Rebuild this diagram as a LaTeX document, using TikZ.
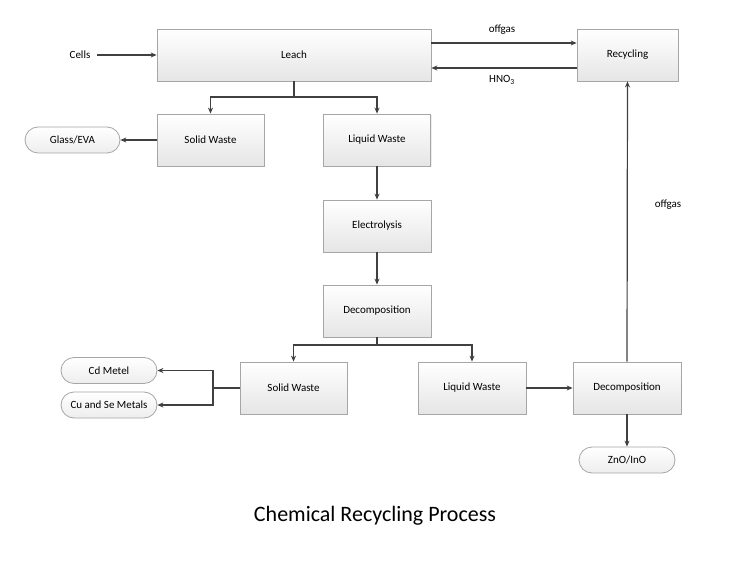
\documentclass[tikz,border=0pt]{standalone}
\usepackage{fontspec}
\setmainfont{Carlito}
\usetikzlibrary{arrows.meta,shapes.misc,shadows}
\definecolor{lnc}{HTML}{404040}
\definecolor{bdc}{HTML}{A6A6A6}
\tikzset{
  pbox/.style={draw=bdc, line width=0.8pt, top color=white, bottom color=black!10,
    minimum height=52pt, inner sep=0pt, font=\fontsize{11}{13}\selectfont,
    drop shadow={shadow xshift=1pt, shadow yshift=-1pt, opacity=0.15}},
  term/.style={draw=bdc, line width=0.8pt, rounded rectangle, top color=white, bottom color=black!7,
    minimum width=96pt, minimum height=26pt, inner sep=0pt, font=\fontsize{11}{13}\selectfont},
  lbl/.style={font=\fontsize{11}{13}\selectfont, inner sep=1pt},
  conn/.style={draw=lnc, line width=1.2pt, -{Stealth[length=6pt,width=5pt]}},
  plain/.style={draw=lnc, line width=1.2pt}
}
\begin{document}
\begin{tikzpicture}[x=1pt,y=-1pt]
\useasboundingbox[fill=white] (0,0) rectangle (750,580);
% boxes
\node[pbox, minimum width=274pt] (leach) at (294,55) {Leach};
\node[pbox, minimum width=101pt] (recyc) at (627.5,55) {Recycling};
\node[pbox, minimum width=107pt] (sw1) at (210.5,140) {Solid Waste};
\node[pbox, minimum width=107pt] (lw1) at (377,140) {Liquid Waste};
\node[pbox, minimum width=108pt] (elec) at (377,226) {Electrolysis};
\node[pbox, minimum width=108pt] (dec1) at (377,311) {Decomposition};
\node[pbox, minimum width=107pt] (sw2) at (293.5,388) {Solid Waste};
\node[pbox, minimum width=108pt] (lw2) at (472,388) {Liquid Waste};
\node[pbox, minimum width=108pt] (dec2) at (627,388) {Decomposition};
% terminals
\node[term, minimum width=95pt] (glass) at (72.5,140) {Glass/EVA};
\node[term] (cd) at (109,370.5) {Cd Metel};
\node[term] (cu) at (109,405) {Cu and Se Metals};
\node[term] (zno) at (627,460) {ZnO/InO};
% text
\node[lbl] (cells) at (80,55) {Cells};
\node[lbl] (og1) at (502,30) {offgas};
\node[lbl] (hno) at (502,80) {HNO\textsubscript{3}};
\node[lbl] (og2) at (668,205) {offgas};
\node[font=\fontsize{22}{26}\selectfont] (title) at (375,516) {Chemical Recycling Process};
% coordinates
\coordinate (cellsend) at (97,55);
\coordinate (split1) at (294,97);
\coordinate (split2) at (377,345);
\coordinate (sj) at (213,388);
% connectors
\draw[conn] (cellsend) -- (leach.west);
\draw[conn] (leach.east |- 0,43) -- (recyc.west |- 0,43);
\draw[conn] (recyc.west |- 0,68) -- (leach.east |- 0,68);
\draw[plain] (leach.south) -- (split1);
\draw[conn] (split1) -| (sw1.north);
\draw[conn] (split1) -| (lw1.north);
\draw[conn] (sw1.west) -- (glass.east);
\draw[conn] (lw1.south) -- (elec.north);
\draw[conn] (elec.south) -- (dec1.north);
\draw[plain] (dec1.south) -- (split2);
\draw[conn] (split2) -| (sw2.north);
\draw[conn] (split2) -| (lw2.north);
\draw[plain] (sw2.west) -- (sj);
\draw[conn] (sj) |- (cd.east);
\draw[conn] (sj) |- (cu.east);
\draw[conn] (lw2.east) -- (dec2.west);
\draw[conn] (dec2.north) -- (recyc.south);
\draw[conn] (dec2.south) -- (zno.north);
\end{tikzpicture}
\end{document}
